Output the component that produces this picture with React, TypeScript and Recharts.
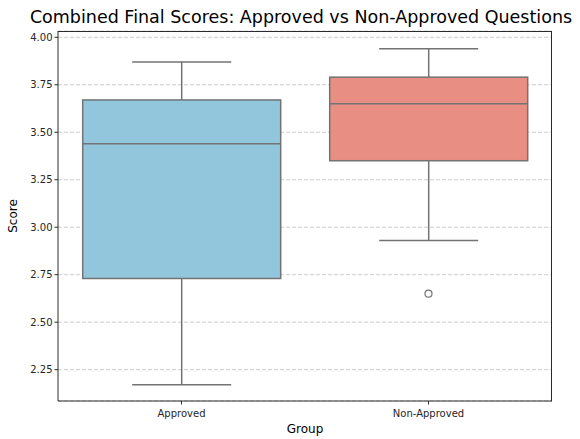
import { ComposedChart, Bar, Scatter, XAxis, YAxis, CartesianGrid } from "recharts";

const groups = ["Approved", "Non-Approved"];
const whiskerLow = [2.17, 2.93];
const q1 = [2.73, 3.35];
const median = [3.44, 3.65];
const q3 = [3.67, 3.79];
const whiskerHigh = [3.87, 3.94];
const boxColors = ["#92C6DD", "#E88E82"];

const outlierGroups = ["Non-Approved"];
const outlierValues = [2.65];

const yTicks = [2.25, 2.5, 2.75, 3.0, 3.25, 3.5, 3.75, 4.0];

const data = groups.map((g, i) => ({
  group: g,
  range: [whiskerLow[i], whiskerHigh[i]],
  q1: q1[i],
  median: median[i],
  q3: q3[i],
  low: whiskerLow[i],
  high: whiskerHigh[i],
  color: boxColors[i],
}));

const outliers = outlierGroups.map((g, i) => ({ group: g, value: outlierValues[i] }));

const LINE = "#737373";
const AXIS = "#2b2b2b";

const BoxShape = (props: any) => {
  const { x, y, width, height, payload } = props;
  const { low, high } = payload;
  const py = (v: number) => y + ((high - v) / (high - low)) * height;
  const cx = x + width / 2;
  const capHalf = width / 4;
  return (
    <g>
      <line x1={cx} x2={cx} y1={py(high)} y2={py(payload.q3)} stroke={LINE} strokeWidth={1.5} />
      <line x1={cx} x2={cx} y1={py(payload.q1)} y2={py(low)} stroke={LINE} strokeWidth={1.5} />
      <line x1={cx - capHalf} x2={cx + capHalf} y1={py(high)} y2={py(high)} stroke={LINE} strokeWidth={1.5} />
      <line x1={cx - capHalf} x2={cx + capHalf} y1={py(low)} y2={py(low)} stroke={LINE} strokeWidth={1.5} />
      <rect
        x={x}
        y={py(payload.q3)}
        width={width}
        height={py(payload.q1) - py(payload.q3)}
        fill={payload.color}
        stroke={LINE}
        strokeWidth={1.5}
      />
      <line x1={x} x2={x + width} y1={py(payload.median)} y2={py(payload.median)} stroke={LINE} strokeWidth={1.5} />
    </g>
  );
};

const OutlierDot = (props: any) => (
  <circle cx={props.cx} cy={props.cy} r={3.5} fill="none" stroke={LINE} strokeWidth={1.2} />
);

const font = "'DejaVu Sans', sans-serif";

export default function App() {
  return (
    <div style={{ position: "absolute", left: 0, top: 0, width: 580, height: 439, background: "#fff", fontFamily: font }}>
      <div
        style={{
          position: "absolute",
          left: 301,
          top: 7,
          transform: "translateX(-50%)",
          whiteSpace: "nowrap",
          fontSize: 17.5,
          color: "#000",
        }}
      >
        Combined Final Scores: Approved vs Non-Approved Questions
      </div>
      <div
        style={{
          position: "absolute",
          left: 13,
          top: 216,
          transform: "translate(-50%, -50%) rotate(-90deg)",
          fontSize: 12,
          color: "#000",
        }}
      >
        Score
      </div>
      <div
        style={{
          position: "absolute",
          left: 305,
          top: 422,
          transform: "translateX(-50%)",
          fontSize: 12,
          color: "#000",
        }}
      >
        Group
      </div>
      <ComposedChart
        width={580}
        height={439}
        data={data}
        margin={{ top: 31, right: 28, left: 8, bottom: 0 }}
        barCategoryGap="10%"
      >
        <CartesianGrid vertical={false} stroke="#cccccc" strokeDasharray="4 2" />
        <XAxis
          dataKey="group"
          allowDuplicatedCategory={false}
          height={38}
          axisLine={{ stroke: AXIS, strokeWidth: 1 }}
          tickLine={{ stroke: AXIS }}
          tickSize={3.5}
          tick={{ fontSize: 10, fill: "#262626", fontFamily: font, dy: 3 }}
        />
        <YAxis
          width={50}
          type="number"
          domain={[2.085, 4.033]}
          ticks={yTicks}
          allowDataOverflow
          tickFormatter={(v: number) => v.toFixed(2)}
          axisLine={{ stroke: AXIS, strokeWidth: 1 }}
          tickLine={{ stroke: AXIS }}
          tickSize={3.5}
          tick={{ fontSize: 10, fill: "#262626", fontFamily: font }}
        />
        <Bar dataKey="range" shape={<BoxShape />} isAnimationActive={false} />
        <Scatter data={outliers} dataKey="value" shape={<OutlierDot />} isAnimationActive={false} />
      </ComposedChart>
      <div
        style={{
          position: "absolute",
          left: 58,
          top: 31,
          width: 494,
          height: 370,
          boxSizing: "border-box",
          borderTop: `1px solid ${AXIS}`,
          borderRight: `1px solid ${AXIS}`,
          pointerEvents: "none",
        }}
      />
    </div>
  );
}
